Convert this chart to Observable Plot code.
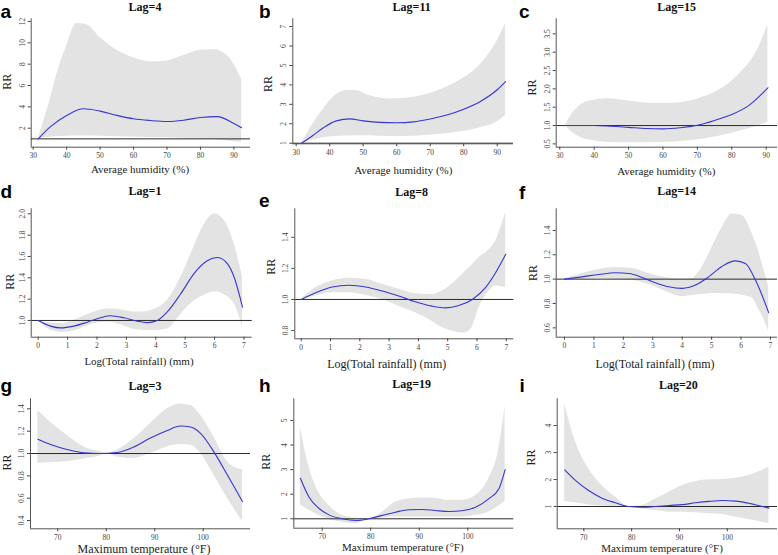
<!DOCTYPE html>
<html>
<head>
<meta charset="utf-8">
<script src="https://cdn.jsdelivr.net/npm/d3@7"></script>
<script src="https://cdn.jsdelivr.net/npm/@observablehq/plot@0.6"></script>
<style>
  html, body { margin: 0; padding: 0; background: #fff; }
  #chart { position: relative; width: 778px; height: 555px; overflow: hidden; background: #fff; }
  #chart svg { position: absolute; }
</style>
</head>
<body>
<div id="chart"></div>
<script>
// ---------- data ----------
const letters = ["a","b","c","d","e","f","g","h","i"];
const titles = ["Lag=4","Lag=11","Lag=15","Lag=1","Lag=8","Lag=14","Lag=3","Lag=19","Lag=20"];
const xTitles = ["Average humidity (%)","Average humidity (%)","Average humidity (%)",
  "Log(Total rainfall) (mm)","Log(Total rainfall) (mm)","Log(Total rainfall) (mm)",
  "Maximum temperature (\u00B0F)","Maximum temperature (\u00B0F)","Maximum temperature (\u00B0F)"];
const yTitle = "RR";

const humTicks = [30,40,50,60,70,80,90];
const rainTicks = [0,1,2,3,4,5,6,7];
const tempTicks = [70,80,90,100];

// a: humidity, lag 4
const aLineX = [31.5,35,40,45,50,55,60,65,70,75,80,85,90,92.3];
const aLineRR = [1.0,2.1,3.19,3.82,3.6,3.2,2.88,2.72,2.63,2.75,3.0,3.08,2.45,2.05];
const aBandX = [31.5,33,35,37.5,40,43,46,50,55,60,65,70,75,80,84,88,92.3];
const aHi = [1.0,2.5,4.6,7.5,9.7,11.8,11.7,10.5,9.3,8.6,8.2,8.3,8.8,9.3,9.35,8.8,6.6];
const aLo = [1.0,1.08,1.15,1.22,1.25,1.27,1.27,1.25,1.21,1.18,1.14,1.1,1.05,1.0,0.94,0.8,0.68];
const aYTicks = [2,4,6,8,10,12];

// b: humidity, lag 11
const bLineX = [31.6,35,38,42,46,50,55,60,65,70,75,80,85,90,92.5];
const bLineRR = [1.0,1.4,1.78,2.15,2.25,2.15,2.07,2.05,2.1,2.25,2.45,2.75,3.15,3.75,4.17];
const bBandX = [31.6,37.8,41.7,44.7,47.7,51.7,57.7,62.6,67.6,73.6,79.6,85.6,89.5,92.5];
const bHi = [1.0,2.68,3.45,3.71,3.71,3.45,3.28,3.31,3.45,3.79,4.31,5.17,6.11,7.14];
const bLo = [1.0,1.27,1.34,1.37,1.39,1.38,1.34,1.35,1.39,1.47,1.6,1.82,2.05,2.42];
const bYTicks = [1,2,3,4,5,6,7];

// c: humidity, lag 15
const cLineX = [31.6,35,40,45,50,55,60,65,70,75,80,85,90.5];
const cLineRR = [1.0,1.0,1.0,0.98,0.95,0.92,0.91,0.94,1.01,1.14,1.3,1.55,2.03];
const cBandX = [31.6,33.6,36.5,40.3,44.2,49,55.7,63.5,70.2,77,82.7,87.6,90.5];
const cHi = [1.0,1.32,1.59,1.7,1.73,1.68,1.61,1.61,1.73,2.0,2.45,3.09,3.75];
const cLo = [1.0,0.82,0.66,0.58,0.54,0.53,0.53,0.55,0.61,0.72,0.86,0.99,1.09];
const cYTicks = [0.5,1.0,1.5,2.0,2.5,3.0,3.5];

// d: rainfall, lag 1
const dLineX = [0,0.42,0.76,1.21,1.67,2.12,2.46,2.92,3.37,3.71,4.05,4.39,4.85,5.3,5.75,6.1,6.44,6.66,6.95];
const dLineRR = [1.0,0.947,0.93,0.947,0.984,1.025,1.044,1.025,0.994,0.98,1.0,1.08,1.25,1.44,1.56,1.59,1.53,1.41,1.125];
const dBandX = [0,0.4,0.8,1.2,1.6,2.0,2.4,2.8,3.2,3.6,4.0,4.4,4.8,5.2,5.6,6.0,6.4,6.7,6.95];
const dHi = [1.0,0.975,0.97,1.0,1.047,1.087,1.11,1.1,1.08,1.08,1.11,1.19,1.375,1.625,1.875,2.0,1.906,1.69,1.41];
const dLo = [1.0,0.9125,0.8875,0.9,0.9375,0.975,0.984,0.96,0.92,0.906,0.905,0.92,1.04,1.16,1.23,1.27,1.23,1.14,0.94];
const dYTicks = [1.0,1.2,1.4,1.6,1.8,2.0];

// e: rainfall, lag 8
const eLineX = [0,0.49,1.06,1.63,2.2,2.77,3.33,3.9,4.47,4.93,5.38,5.84,6.29,6.64,6.98];
const eLineRR = [1.0,1.043,1.08,1.091,1.08,1.054,1.022,0.985,0.957,0.946,0.961,1.0,1.076,1.173,1.29];
const eBandX = [0,0.49,1.06,1.63,2.2,2.77,3.33,3.9,4.47,4.81,5.27,5.55,5.8,6.07,6.41,6.64,6.98];
const eHi = [1.0,1.076,1.119,1.136,1.13,1.097,1.065,1.037,1.032,1.054,1.119,1.17,1.215,1.27,1.32,1.378,1.562];
const eLo = [1.0,1.022,1.043,1.043,1.026,1.0,0.957,0.914,0.859,0.82,0.79,0.784,0.81,0.946,1.054,1.086,1.076];
const eYTicks = [0.8,1.0,1.2,1.4];

// f: rainfall, lag 14
const fLineX = [0,0.6,1.17,1.73,2.19,2.64,3.09,3.54,4.0,4.45,4.9,5.36,5.81,6.15,6.49,6.94];
const fLineRR = [1.0,1.019,1.038,1.052,1.046,1.014,0.97,0.937,0.924,0.951,1.019,1.106,1.15,1.128,0.992,0.725];
const fBandX = [0,0.6,1.17,1.73,2.3,2.87,3.43,4.0,4.34,4.68,5.02,5.36,5.7,6.04,6.38,6.61,6.72,6.94];
const fHi = [1.0,1.046,1.079,1.095,1.087,1.046,1.014,1.0,1.005,1.1,1.264,1.427,1.536,1.522,1.373,1.22,1.128,0.937];
const fLo = [1.0,1.0,1.005,1.0,0.99,0.955,0.9,0.856,0.865,0.873,0.883,0.882,0.878,0.868,0.845,0.747,0.7,0.57];
const fYTicks = [0.6,0.8,1.0,1.2,1.4];

// g: max temperature, lag 3
const gLineX = [65.9,68.5,71.9,75.4,78.8,82.2,85.7,89.1,92.6,95.3,97.4,99.5,102.2,105,108.1];
const gLineRR = [1.127,1.08,1.036,1.006,1.0,1.009,1.059,1.139,1.207,1.246,1.237,1.178,1.015,0.807,0.57];
const gBandX = [65.9,68.5,71.9,75.4,78.8,80,82.2,85.7,89.1,92.6,95.3,97.4,99.5,102.2,105,108.1];
const gHi = [1.385,1.281,1.163,1.059,1.015,1.0,1.03,1.133,1.267,1.4,1.444,1.43,1.34,1.148,0.926,0.852];
const gLo = [0.911,0.917,0.926,0.95,0.979,1.0,0.97,0.956,1.0,1.059,1.08,1.074,1.0,0.807,0.6,0.393];
const gYTicks = [0.4,0.6,0.8,1.0,1.2,1.4];

// h: max temperature, lag 19
const hLineX = [65.5,67.3,69.3,71.4,74.1,76.9,79.6,82.4,85.1,87.8,90.6,93.3,96.1,98.8,101.6,104.3,106.4,107.7];
const hLineRR = [2.65,1.88,1.43,1.16,1.0,0.93,1.0,1.14,1.27,1.37,1.38,1.34,1.3,1.33,1.47,1.81,2.22,3.0];
const hBandX = hLineX;
const hHi = [4.73,3.1,2.08,1.54,1.14,1.02,1.0,1.27,1.68,1.81,1.85,1.84,1.75,1.75,1.95,2.63,3.85,5.61];
const hLo = [1.57,1.34,1.14,0.97,0.86,0.8,0.98,1.03,1.07,1.07,1.07,1.07,1.07,1.07,1.14,1.27,1.52,1.7];
const hYTicks = [1,2,3,4,5];

// i: max temperature, lag 20
const iLineX = [66,68.3,71,73.8,76.6,79.4,82.2,85,87.8,90.6,93.4,96.2,99,101.8,104.5,108.7];
const iLineRR = [2.36,1.96,1.59,1.31,1.14,1.0,0.975,1.0,1.04,1.07,1.14,1.19,1.22,1.2,1.12,0.94];
const iBandX = iLineX;
const iHi = [4.8,3.38,2.4,1.78,1.35,1.0,1.04,1.28,1.53,1.78,1.93,1.99,2.0,2.05,2.15,2.45];
const iLo = [1.19,1.14,1.06,1.02,0.99,1.0,0.91,0.85,0.79,0.79,0.77,0.73,0.7,0.6,0.52,0.36];
const iYTicks = [1,2,3,4];

// ---------- assemble ----------
const zip2 = (xs, ys) => xs.map((x, k) => ({x, y: ys[k]}));
const zip3 = (xs, lo, hi) => xs.map((x, k) => ({x, lo: lo[k], hi: hi[k]}));
const f1 = d3.format(".1f");
const f0 = d3.format("d");

const series = [
  {line: zip2(aLineX, aLineRR), band: zip3(aBandX, aLo, aHi), xt: humTicks, yt: aYTicks, yf: f0},
  {line: zip2(bLineX, bLineRR), band: zip3(bBandX, bLo, bHi), xt: humTicks, yt: bYTicks, yf: f0},
  {line: zip2(cLineX, cLineRR), band: zip3(cBandX, cLo, cHi), xt: humTicks, yt: cYTicks, yf: f1},
  {line: zip2(dLineX, dLineRR), band: zip3(dBandX, dLo, dHi), xt: rainTicks, yt: dYTicks, yf: f1},
  {line: zip2(eLineX, eLineRR), band: zip3(eBandX, eLo, eHi), xt: rainTicks, yt: eYTicks, yf: f1},
  {line: zip2(fLineX, fLineRR), band: zip3(fBandX, fLo, fHi), xt: rainTicks, yt: fYTicks, yf: f1},
  {line: zip2(gLineX, gLineRR), band: zip3(gBandX, gLo, gHi), xt: tempTicks, yt: gYTicks, yf: f1},
  {line: zip2(hLineX, hLineRR), band: zip3(hBandX, hLo, hHi), xt: tempTicks, yt: hYTicks, yf: f0},
  {line: zip2(iLineX, iLineRR), band: zip3(iBandX, iLo, iHi), xt: tempTicks, yt: iYTicks, yf: f0}
];

// layout: panel box [x,y,w,h], frame [left,top,right,bottom], visible domains, text anchors
const layout = [
  {box:[0,0,255,180],    frame:[30.7,18.3,250,146.7],    xd:[29.4,94.96],   yd:[0.22,12.25], letter:[0.5,18.3], title:[145,10.5], xlab:[140,172.5,11], rr:[7,81.7]},
  {box:[255,0,260,180],  frame:[292.3,18.3,513,143.3],   xd:[28.99,94.87],  yd:[0.97,7.40],  letter:[259,18.3], title:[411.7,10.5], xlab:[403.3,173.5,11], rr:[268,84]},
  {box:[515,0,263,180],  frame:[555.7,18.3,777,146.7],   xd:[28.95,93.3],   yd:[0.41,3.91],  letter:[519,18.3], title:[676.7,11], xlab:[666.3,175,11], rr:[532,87.5]},
  {box:[0,180,255,185],  frame:[30.7,208.3,251.7,336.7], xd:[-0.238,7.28],  yd:[0.843,2.047], letter:[0.5,198.3], title:[145,194.5], xlab:[139,365,11], rr:[10,281.7]},
  {box:[255,180,260,185],frame:[294.3,208.3,513.3,338.3],xd:[-0.218,7.256], yd:[0.747,1.583], letter:[259,206.7], title:[411.7,196], xlab:[386.7,368,12], rr:[271,266.7]},
  {box:[515,180,263,185],frame:[555.7,208.3,777,336.7],  xd:[-0.282,7.24],  yd:[0.523,1.578], letter:[519,199], title:[676.7,194.5], xlab:[655,368,12], rr:[532.5,273]},
  {box:[0,365,255,190],  frame:[30,398.3,250,528.3],     xd:[64.37,109.76], yd:[0.326,1.49], letter:[0.5,392], title:[145,389.5], xlab:[144,552.5,12], rr:[7,462.5]},
  {box:[255,365,260,190],frame:[293.3,398.3,513.3,527.7],xd:[64.15,109.48], yd:[0.618,5.88], letter:[259,391.7], title:[411.7,388], xlab:[402.8,551,11], rr:[266,461.7]},
  {box:[515,365,263,190],frame:[556.7,398.3,777,528.3],  xd:[64.43,110.5],  yd:[0.174,4.99], letter:[519.5,391.7], title:[678.3,389], xlab:[662,552,11], rr:[531,457.5]}
];

const chart = document.getElementById("chart");
const SERIF = "'Liberation Serif', 'Times New Roman', serif";
const SANS = "'Liberation Sans', Arial, sans-serif";

series.forEach((s, k) => {
  const L = layout[k];
  const [bx, by, bw, bh] = L.box;
  const [fl, ft, fr, fb] = L.frame;
  const svg = Plot.plot({
    width: bw, height: bh,
    marginLeft: fl - bx, marginRight: bx + bw - fr,
    marginTop: ft - by, marginBottom: by + bh - fb,
    x: {domain: L.xd, axis: null},
    y: {domain: L.yd, axis: null},
    style: {background: "transparent", overflow: "visible", fontFamily: SERIF},
    marks: [
      Plot.areaY(s.band, {x: "x", y1: "lo", y2: "hi", fill: "#e3e3e3", curve: "monotone-x"}),
      Plot.ruleY([1], {stroke: "#2a2a2a", strokeWidth: 1}),
      Plot.lineY(s.line, {x: "x", y: "y", stroke: "#3636d0", strokeWidth: 1.1, curve: "monotone-x"}),
      Plot.ruleX([L.xd[0]], {stroke: "#555", strokeWidth: 1}),
      Plot.ruleY([L.yd[0]], {stroke: "#555", strokeWidth: 1}),
      Plot.axisX({ticks: s.xt, label: null, tickSize: 3, tickPadding: 2.5, fontSize: 7.5, fontFamily: SERIF, color: "#444", tickFormat: d3.format("d")}),
      Plot.axisY({ticks: s.yt, label: null, tickSize: 3, tickPadding: 3.5, tickRotate: -90, fontSize: 7.5, fontFamily: SERIF, color: "#444", tickFormat: s.yf})
    ]
  });
  svg.style.left = bx + "px";
  svg.style.top = by + "px";
  chart.appendChild(svg);
});

// text overlay: panel letters, lag titles, axis titles
const overlay = d3.create("svg")
  .attr("width", 778).attr("height", 555)
  .style("left", "0px").style("top", "0px")
  .style("pointer-events", "none");

layout.forEach((L, k) => {
  overlay.append("text")
    .attr("x", L.letter[0]).attr("y", L.letter[1])
    .attr("font-family", SANS).attr("font-weight", "bold").attr("font-size", 19)
    .attr("fill", "#000").text(letters[k]);
  overlay.append("text")
    .attr("x", L.title[0]).attr("y", L.title[1])
    .attr("text-anchor", "middle")
    .attr("font-family", SERIF).attr("font-weight", "bold").attr("font-size", 12)
    .attr("fill", "#111").text(titles[k]);
  overlay.append("text")
    .attr("x", L.xlab[0]).attr("y", L.xlab[1])
    .attr("text-anchor", "middle")
    .attr("font-family", SERIF).attr("font-size", L.xlab[2])
    .attr("fill", "#222").text(xTitles[k]);
  overlay.append("text")
    .attr("transform", `translate(${L.rr[0]},${L.rr[1]}) rotate(-90)`)
    .attr("text-anchor", "middle").attr("dy", "0.35em")
    .attr("font-family", SERIF).attr("font-size", 12)
    .attr("fill", "#222").text(yTitle);
});
chart.appendChild(overlay.node());
</script>
</body>
</html>
